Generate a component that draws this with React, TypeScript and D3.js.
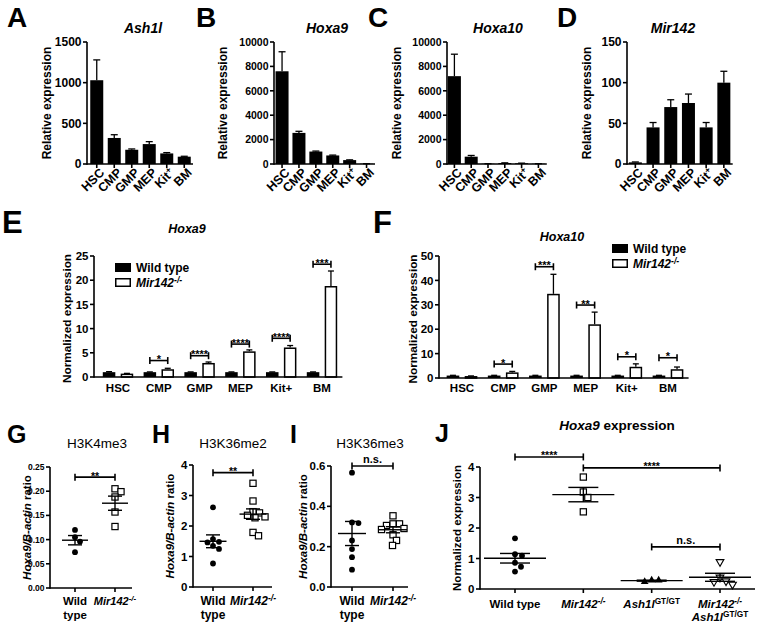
import React from "react";
import * as d3 from "d3";

const FONT = "'Liberation Sans', Arial, Helvetica, sans-serif";
const W = 760;
const H = 629;

// ---------------- data ----------------
const cellTypes = ["HSC", "CMP", "GMP", "MEP", "Kit+", "BM"];

// Panels A-D (relative expression, mean + SEM)
const ash1lMean = [1030, 320, 175, 245, 130, 90];
const ash1lErr = [250, 40, 10, 30, 10, 5];
const hoxa9Mean = [7600, 2550, 1020, 700, 320, 20];
const hoxa9Err = [1600, 130, 40, 30, 20, 5];
const hoxa10Mean = [7200, 600, 20, 80, 60, 20];
const hoxa10Err = [1800, 100, 5, 15, 10, 5];
const mir142Mean = [2, 45, 70, 75, 45, 100];
const mir142Err = [0.5, 6, 9, 11, 6, 14];

const ticksA = [0, 500, 1000, 1500];
const ticksBC = [0, 2000, 4000, 6000, 8000, 10000];
const ticksD = [0, 50, 100, 150];

// Panel E (Hoxa9 normalized)
const eWT = [1, 1, 1, 1, 1, 1];
const eWTErr = [0.1, 0.05, 0.05, 0.05, 0.05, 0.05];
const eKO = [0.7, 1.6, 2.9, 5.3, 6.1, 18.8];
const eKOErr = [0.05, 0.2, 0.2, 0.3, 0.4, 3.1];
const eSig = ["", "*", "****", "****", "****", "***"];
const eSigLevel = [0, 3.4, 4.4, 6.8, 8.0, 23.3];
const ticksE = [0, 5, 10, 15, 20, 25];

// Panel F (Hoxa10 normalized)
const fWT = [1, 1, 1, 1, 1, 1];
const fWTErr = [0.1, 0.1, 0.1, 0.1, 0.1, 0.1];
const fKO = [0.8, 2.3, 34.5, 22, 4.6, 3.6];
const fKOErr = [0.05, 0.4, 8, 5, 1.2, 0.9];
const fSig = ["", "*", "***", "**", "*", "*"];
const fSigLevel = [0, 5.7, 45.6, 29.9, 8.7, 8.3];
const ticksF = [0, 10, 20, 30, 40, 50];

// Panels G-I (ChIP ratios)
const h3k4WT = [0.12, 0.105, 0.096, 0.074];
const h3k4KO = [0.205, 0.199, 0.188, 0.157, 0.127];
const h3k36me2WT = [2.61, 1.57, 1.48, 1.46, 1.35, 1.25, 0.77];
const h3k36me2KO = [3.4, 2.82, 2.47, 2.43, 2.35, 2.3, 2.27, 1.79, 1.68];
const h3k36me3WT = [0.567, 0.32, 0.317, 0.231, 0.188, 0.148, 0.086];
const h3k36me3KO = [0.353, 0.313, 0.313, 0.305, 0.29, 0.285, 0.259, 0.231, 0.206];
const ticksG = [0, 0.05, 0.1, 0.15, 0.2, 0.25];
const ticksH = [0, 1, 2, 3, 4];
const ticksI = [0, 0.2, 0.4, 0.6];

// Panel J
const jWT = [1.66, 1.14, 1.09, 0.86, 0.73, 0.57];
const jKO = [3.67, 3.18, 3.0, 2.53];
const jAsh = [0.29, 0.24, 0.29];
const jDouble = [0.89, 0.38, 0.26, 0.24, 0.15];
const ticksJ = [0, 1, 2, 3, 4];

// ---------------- helpers ----------------
const SW = 1.6;

function KO({ size = 0.72 }: { size?: number }) {
  return (
    <>
      <tspan fontStyle="italic">Mir142</tspan>
      <tspan fontStyle="italic" fontSize={`${size}em`} dy="-0.45em">-/-</tspan>
    </>
  );
}

function YAxis({ y, x, ticks, fs, fmt }: any) {
  const d = y.domain();
  return (
    <g>
      <line x1={x} x2={x} y1={y(d[0]) + SW / 2} y2={y(d[1])} stroke="#000" strokeWidth={SW} />
      {ticks.map((t: number) => (
        <g key={t}>
          <line x1={x - 4} x2={x} y1={y(t)} y2={y(t)} stroke="#000" strokeWidth={SW} />
          <text x={x - 5.5} y={y(t)} dy="0.36em" textAnchor="end" fontSize={fs} fontWeight="bold">
            {fmt ? fmt(t) : String(t)}
          </text>
        </g>
      ))}
    </g>
  );
}

function YLabel({ x, y, fs = 11.5, children }: any) {
  return (
    <text transform={`translate(${x},${y}) rotate(-90)`} dy="0.35em" textAnchor="middle" fontSize={fs} fontWeight="bold">
      {children}
    </text>
  );
}

function Bracket({ x1, x2, y, label, fs = 11 }: any) {
  const isStar = label.includes("*");
  return (
    <g>
      <line x1={x1} x2={x2} y1={y} y2={y} stroke="#000" strokeWidth={SW} />
      <line x1={x1} x2={x1} y1={y - 3.5} y2={y + 3.5} stroke="#000" strokeWidth={SW} />
      <line x1={x2} x2={x2} y1={y - 3.5} y2={y + 3.5} stroke="#000" strokeWidth={SW} />
      <text x={(x1 + x2) / 2} y={isStar ? y + 2.5 : y - 3} textAnchor="middle" fontSize={fs} fontWeight="bold" fill="#000">
        {label}
      </text>
    </g>
  );
}

function ErrBar({ x, y1, y2, cap }: any) {
  return (
    <g>
      <line x1={x} x2={x} y1={y1} y2={y2} stroke="#000" strokeWidth={1.3} />
      <line x1={x - cap} x2={x + cap} y1={y2} y2={y2} stroke="#000" strokeWidth={1.3} />
    </g>
  );
}

// ---------------- top bar panels ----------------
function TopBarPanel(p: any) {
  const y = d3.scaleLinear().domain([0, p.yMax]).range([164, 42]);
  const xEnd = p.bandStart + p.step * cellTypes.length;
  const x = d3.scaleBand<string>().domain(cellTypes).range([p.bandStart, xEnd]);
  const bw = 13;
  return (
    <g>
      <text x={p.letterX} y={27} fontSize={28} fontWeight="bold">{p.letter}</text>
      <text x={p.titleX} y={33} textAnchor="middle" fontSize={14} fontWeight="bold" fontStyle="italic">
        {p.title}
      </text>
      {cellTypes.map((c, i) => {
        const cx = (x(c) as number) + x.bandwidth() / 2;
        return (
          <g key={c}>
            <rect x={cx - bw / 2} y={y(p.means[i])} width={bw} height={y(0) - y(p.means[i])} fill="#000" />
            <ErrBar x={cx} y1={y(p.means[i])} y2={y(p.means[i] + p.errs[i])} cap={3.5} />
            <line x1={cx} x2={cx} y1={y(0)} y2={y(0) + 4} stroke="#000" strokeWidth={SW} />
            <text
              transform={`translate(${cx + 2},${y(0) + 3}) rotate(-45)`}
              dy="0.72em"
              textAnchor="end"
              fontSize={12.5}
              fontWeight="bold"
            >
              {c === "Kit+" ? (
                <>
                  <tspan>Kit</tspan>
                  <tspan fontSize="0.7em" dy="-0.5em">+</tspan>
                </>
              ) : (
                c
              )}
            </text>
          </g>
        );
      })}
      <line x1={p.axisX} x2={xEnd} y1={y(0)} y2={y(0)} stroke="#000" strokeWidth={SW} />
      <YAxis y={y} x={p.axisX} ticks={p.ticks} fs={p.tickFs} />
      <YLabel x={p.ylabelX} y={103} fs={12}>Relative expression</YLabel>
    </g>
  );
}

// ---------------- grouped bar panels ----------------
function GroupedPanel(p: any) {
  const y = d3.scaleLinear().domain([0, p.yMax]).range([p.y0, p.yTop]);
  const x = d3.scaleBand<string>().domain(cellTypes).range([p.bandStart, p.bandEnd]);
  const sub = d3.scaleBand<string>().domain(["wt", "ko"]).range([0, x.bandwidth()]).paddingInner(0.3).paddingOuter(0.29);
  const bw = sub.bandwidth();
  return (
    <g>
      <text x={p.letterX} y={233} fontSize={31} fontWeight="bold">{p.letter}</text>
      <text x={p.titleX} y={p.titleY} textAnchor="middle" fontSize={12.5} fontWeight="bold" fontStyle="italic">
        {p.title}
      </text>
      {cellTypes.map((c, i) => {
        const gx = x(c) as number;
        const wx = gx + (sub("wt") as number);
        const kx = gx + (sub("ko") as number);
        return (
          <g key={c}>
            <rect x={wx} y={y(p.wt[i])} width={bw} height={y(0) - y(p.wt[i])} fill="#000" />
            <ErrBar x={wx + bw / 2} y1={y(p.wt[i])} y2={y(p.wt[i] + p.wtErr[i])} cap={3} />
            <ErrBar x={kx + bw / 2} y1={y(p.ko[i])} y2={y(p.ko[i] + p.koErr[i])} cap={3} />
            <rect
              x={kx + 0.75}
              y={y(p.ko[i]) + 0.75}
              width={bw - 1.5}
              height={Math.max(0, y(0) - y(p.ko[i]) - 0.75)}
              fill="#fff"
              stroke="#000"
              strokeWidth={1.5}
            />
            {p.sig[i] ? (
              <Bracket x1={wx + bw / 2} x2={kx + bw / 2} y={y(p.sigLevel[i])} label={p.sig[i]} />
            ) : null}
            <text x={gx + x.bandwidth() / 2} y={392} textAnchor="middle" fontSize={11.5} fontWeight="bold">
              {c}
            </text>
          </g>
        );
      })}
      <line x1={p.axisX} x2={p.bandEnd} y1={y(0)} y2={y(0)} stroke="#000" strokeWidth={SW} />
      <YAxis y={y} x={p.axisX} ticks={p.ticks} fs={11.5} />
      <YLabel x={p.ylabelX} y={(p.y0 + p.yTop) / 2 + 2} fs={11.8}>Normalized expression</YLabel>
      <rect x={p.legX} y={p.legY} width={16} height={9} fill="#000" />
      <text x={p.legX + 21} y={p.legY + 9} fontSize={12} fontWeight="bold">Wild type</text>
      <rect x={p.legX + 0.75} y={p.legY + 15.75} width={14.5} height={7.5} fill="#fff" stroke="#000" strokeWidth={1.5} />
      <text x={p.legX + 21} y={p.legY + 24} fontSize={12} fontWeight="bold">
        <KO />
      </text>
    </g>
  );
}

// ---------------- scatter panels ----------------
function dodge(vals: number[], yf: (v: number) => number, minDist: number): number[] {
  const order = vals.map((_, i) => i).sort((a, b) => vals[b] - vals[a]);
  const placed: { x: number; y: number }[] = [];
  const out = new Array(vals.length).fill(0);
  for (const i of order) {
    const yy = yf(vals[i]);
    let best = 0;
    for (let k = 0; k < 400; k++) {
      const off = k === 0 ? 0 : (k % 2 ? 1 : -1) * Math.ceil(k / 2) * 0.5;
      if (placed.every((q) => Math.hypot(q.x - off, q.y - yy) >= minDist)) {
        best = off;
        break;
      }
    }
    placed.push({ x: best, y: yy });
    out[i] = best;
  }
  return out;
}

function Marker({ shape, x, y }: any) {
  if (shape === "circle") return <circle cx={x} cy={y} r={2.9} fill="#000" />;
  if (shape === "square")
    return <rect x={x - 3.1} y={y - 3.1} width={6.2} height={6.2} fill="#fff" stroke="#000" strokeWidth={1.2} />;
  const path = d3.symbol().type(d3.symbolTriangle).size(26)() as string;
  if (shape === "triUp") return <path d={path} transform={`translate(${x},${y})`} fill="#000" />;
  return <path d={path} transform={`translate(${x},${y}) rotate(180)`} fill="#fff" stroke="#000" strokeWidth={1.1} />;
}

function ScatterPanel(p: any) {
  const y = d3.scaleLinear().domain([0, p.yMax]).range([p.y0, p.yTop]);
  const x = d3.scalePoint<string>().domain(p.groups.map((g: any) => g.key)).range([p.firstX, p.lastX]);
  return (
    <g>
      <text x={p.letterX} y={p.letterY} fontSize={25} fontWeight="bold">{p.letter}</text>
      {p.title}
      {p.groups.map((g: any) => {
        const cx = x(g.key) as number;
        const offs = dodge(g.values, (v) => y(v), p.minDist);
        const m = d3.mean(g.values) as number;
        const sem = (d3.deviation(g.values) as number) / Math.sqrt(g.values.length);
        return (
          <g key={g.key}>
            {g.values.map((v: number, i: number) => (
              <Marker key={i} shape={g.shape} x={cx + offs[i]} y={y(v)} />
            ))}
            <line x1={cx - p.meanHalf} x2={cx + p.meanHalf} y1={y(m)} y2={y(m)} stroke="#000" strokeWidth={1.4} />
            <line x1={cx - p.semHalf} x2={cx + p.semHalf} y1={y(m + sem)} y2={y(m + sem)} stroke="#000" strokeWidth={1.4} />
            <line x1={cx - p.semHalf} x2={cx + p.semHalf} y1={y(m - sem)} y2={y(m - sem)} stroke="#000" strokeWidth={1.4} />
            <line x1={cx} x2={cx} y1={y(m - sem)} y2={y(m + sem)} stroke="#000" strokeWidth={1.4} />
            <line x1={cx} x2={cx} y1={y(0)} y2={y(0) + 4} stroke="#000" strokeWidth={SW} />
            {g.label(cx)}
          </g>
        );
      })}
      {p.brackets.map((b: any, i: number) => (
        <Bracket key={i} x1={x(b.a)} x2={x(b.b)} y={y(b.level)} label={b.label} fs={b.label === "n.s." ? 11 : 10.5} />
      ))}
      <line x1={p.axisX} x2={p.xEnd} y1={y(0)} y2={y(0)} stroke="#000" strokeWidth={SW} />
      <YAxis y={y} x={p.axisX} ticks={p.ticks} fs={p.tickFs} fmt={p.fmt} />
      <YLabel x={p.ylabelX} y={(p.y0 + p.yTop) / 2} fs={11.5}>
        {p.ylabel}
      </YLabel>
    </g>
  );
}

const wildTypeTwoLine = (fs: number) => (cx: number) => (
  <text x={cx} y={605} textAnchor="middle" fontSize={fs} fontWeight="bold">
    <tspan x={cx}>Wild</tspan>
    <tspan x={cx} dy="1.2em">type</tspan>
  </text>
);
const koLabel = (fs: number, yy = 605) => (cx: number) => (
  <text x={cx} y={yy} textAnchor="middle" fontSize={fs} fontWeight="bold">
    <KO />
  </text>
);

const chipYLabel = (
  <>
    <tspan fontStyle="italic">Hoxa9/B-actin</tspan>
    <tspan> ratio</tspan>
  </>
);

function chipTitle(text: string, cx: number) {
  return (
    <text x={cx} y={448} textAnchor="middle" fontSize={13.5} fontWeight="normal">
      {text}
    </text>
  );
}

export default function App() {
  const fmt2 = d3.format(".2f");
  const fmt1 = d3.format(".1f");
  return (
    <svg
      width={W}
      height={H}
      viewBox={`0 0 ${W} ${H}`}
      style={{ position: "absolute", left: 0, top: 0, background: "#fff" }}
      fontFamily={FONT}
    >
      <rect width={W} height={H} fill="#fff" />
      <TopBarPanel letter="A" letterX={7} title="Ash1l" titleX={143} axisX={87} bandStart={88} step={17.5}
        yMax={1500} ticks={ticksA} means={ash1lMean} errs={ash1lErr} ylabelX={47} tickFs={12} />
      <TopBarPanel letter="B" letterX={196} title="Hoxa9" titleX={327} axisX={274} bandStart={273.6} step={16.9}
        yMax={10000} ticks={ticksBC} means={hoxa9Mean} errs={hoxa9Err} ylabelX={223} tickFs={10.5} />
      <TopBarPanel letter="C" letterX={368} title="Hoxa10" titleX={498} axisX={447} bandStart={446} step={16.8}
        yMax={10000} ticks={ticksBC} means={hoxa10Mean} errs={hoxa10Err} ylabelX={397} tickFs={10.5} />
      <TopBarPanel letter="D" letterX={557} title="Mir142" titleX={673} axisX={627} bandStart={626.5} step={17.7}
        yMax={150} ticks={ticksD} means={mir142Mean} errs={mir142Err} ylabelX={587} tickFs={12} />

      <GroupedPanel letter="E" letterX={2} title="Hoxa9" titleX={187} titleY={233} axisX={94} bandStart={97.6} bandEnd={342.4}
        y0={377} yTop={256} yMax={25} ticks={ticksE} wt={eWT} wtErr={eWTErr} ko={eKO} koErr={eKOErr}
        sig={eSig} sigLevel={eSigLevel} ylabelX={67} legX={115} legY={263} />
      <GroupedPanel letter="F" letterX={373} title="Hoxa10" titleX={562} titleY={241} axisX={439} bandStart={441.4} bandEnd={688.6}
        y0={378} yTop={256} yMax={50} ticks={ticksF} wt={fWT} wtErr={fWTErr} ko={fKO} koErr={fKOErr}
        sig={fSig} sigLevel={fSigLevel} ylabelX={413} legX={612} legY={244} />

      <ScatterPanel letter="G" letterX={7} letterY={443} title={chipTitle("H3K4me3", 97)}
        axisX={50} xEnd={132} firstX={75} lastX={115} y0={588} yTop={467} yMax={0.25} ticks={ticksG} fmt={fmt2} tickFs={8.5}
        ylabelX={27} ylabel={chipYLabel} meanHalf={13} semHalf={7} minDist={6.4}
        groups={[
          { key: "wt", values: h3k4WT, shape: "circle", label: wildTypeTwoLine(11.5) },
          { key: "ko", values: h3k4KO, shape: "square", label: koLabel(11) },
        ]}
        brackets={[{ a: "wt", b: "ko", level: 0.229, label: "**" }]} />
      <ScatterPanel letter="H" letterX={152} letterY={443} title={chipTitle("H3K36me2", 233)}
        axisX={193} xEnd={272} firstX={213} lastX={253} y0={587} yTop={465} yMax={4} ticks={ticksH} tickFs={11.5}
        ylabelX={170} ylabel={chipYLabel} meanHalf={13.5} semHalf={7} minDist={6.4}
        groups={[
          { key: "wt", values: h3k36me2WT, shape: "circle", label: wildTypeTwoLine(12) },
          { key: "ko", values: h3k36me2KO, shape: "square", label: koLabel(12) },
        ]}
        brackets={[{ a: "wt", b: "ko", level: 3.75, label: "**" }]} />
      <ScatterPanel letter="I" letterX={290} letterY={443} title={chipTitle("H3K36me3", 370)}
        axisX={331} xEnd={408} firstX={352} lastX={393} y0={587} yTop={466} yMax={0.6} ticks={ticksI} fmt={fmt1} tickFs={11.5}
        ylabelX={303} ylabel={chipYLabel} meanHalf={14} semHalf={7} minDist={6.4}
        groups={[
          { key: "wt", values: h3k36me3WT, shape: "circle", label: wildTypeTwoLine(12) },
          { key: "ko", values: h3k36me3KO, shape: "square", label: koLabel(12) },
        ]}
        brackets={[{ a: "wt", b: "ko", level: 0.6, label: "n.s." }]} />
      <ScatterPanel letter="J" letterX={435} letterY={442}
        title={
          <text x={617} y={430} textAnchor="middle" fontSize={13.5} fontWeight="bold">
            <tspan fontStyle="italic">Hoxa9</tspan>
            <tspan> expression</tspan>
          </text>
        }
        axisX={480} xEnd={755} firstX={515} lastX={720} y0={589} yTop={467} yMax={4} ticks={ticksJ} tickFs={11.5}
        ylabelX={457} ylabel="Normalized expression" meanHalf={31} semHalf={15} minDist={7}
        groups={[
          {
            key: "wt", values: jWT, shape: "circle",
            label: (cx: number) => (
              <text x={cx} y={608} textAnchor="middle" fontSize={11.5} fontWeight="bold">Wild type</text>
            ),
          },
          { key: "ko", values: jKO, shape: "square", label: koLabel(11.5, 608) },
          {
            key: "ash", values: jAsh, shape: "triUp",
            label: (cx: number) => (
              <text x={cx} y={608} textAnchor="middle" fontSize={11.5} fontWeight="bold">
                <tspan fontStyle="italic">Ash1l</tspan>
                <tspan fontSize="0.72em" dy="-0.45em">GT/GT</tspan>
              </text>
            ),
          },
          {
            key: "dbl", values: jDouble, shape: "triDown",
            label: (cx: number) => (
              <g>
                <text x={cx} y={608} textAnchor="middle" fontSize={11.5} fontWeight="bold">
                  <KO />
                </text>
                <text x={cx} y={621} textAnchor="middle" fontSize={11.5} fontWeight="bold">
                  <tspan fontStyle="italic">Ash1l</tspan>
                  <tspan fontSize="0.72em" dy="-0.45em">GT/GT</tspan>
                </text>
              </g>
            ),
          },
        ]}
        brackets={[
          { a: "wt", b: "ko", level: 4.33, label: "****" },
          { a: "ko", b: "dbl", level: 3.97, label: "****" },
          { a: "ash", b: "dbl", level: 1.38, label: "n.s." },
        ]} />
    </svg>
  );
}
